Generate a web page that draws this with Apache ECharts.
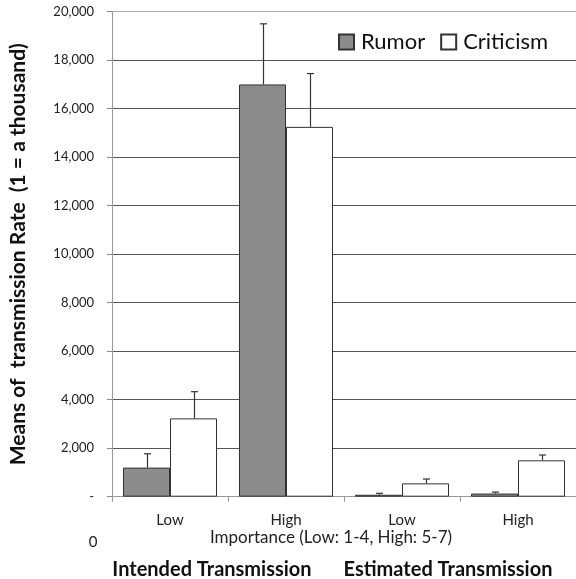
<!DOCTYPE html>
<html><head><meta charset="utf-8">
<script src="https://cdn.jsdelivr.net/npm/echarts@6/dist/echarts.min.js"></script>
<style>html,body{margin:0;padding:0;background:#fff}#c{width:576px;height:579px}</style>
</head><body><div id="c"></div>
<script>
const categories = ['Low', 'High', 'Low', 'High'];
const rumor = [1200, 17000, 80, 130];
const rumorErr = [570, 2500, 60, 60];
const criticism = [3230, 15250, 550, 1500];
const criticismErr = [1100, 2200, 180, 220];
const yTicks = { min: 0, max: 20000, interval: 2000 };

const FONT = 'Lato';
const BW = 47;
const chart = echarts.init(document.getElementById('c'));

function errSeries(name, vals, errs, side) {
  return {
    type: 'custom', name: name + ' err', silent: true, z: 5,
    data: vals.map((v, i) => [i, v, v + errs[i]]),
    renderItem: function (params, api) {
      const i = api.value(0);
      const p0 = api.coord([i, api.value(1)]);
      const p1 = api.coord([i, api.value(2)]);
      const x = Math.round(p0[0] + side * BW / 2) + 0.5;
      const st = { stroke: '#333', lineWidth: 1.2 };
      return { type: 'group', children: [
        { type: 'line', shape: { x1: x, y1: p0[1], x2: x, y2: p1[1] }, style: st },
        { type: 'line', shape: { x1: x - 3.5, y1: p1[1], x2: x + 3.5, y2: p1[1] }, style: st }
      ]};
    }
  };
}

chart.setOption({
  animation: false,
  textStyle: { fontFamily: FONT },
  grid: { left: 110.7, top: 11.7, width: 466.7, height: 485 },
  legend: {
    top: 26, left: 333, itemWidth: 15, itemHeight: 15, itemGap: 15,
    textStyle: { fontSize: 22, color: '#111', fontFamily: FONT, padding: [0, 0, 0, 2] },
    data: [
      { name: 'Rumor', icon: 'rect' },
      { name: 'Criticism', icon: 'rect' }
    ]
  },
  xAxis: {
    type: 'category', data: categories,
    axisLine: { lineStyle: { color: '#999' } },
    axisTick: { show: true, length: 5, lineStyle: { color: '#999' } },
    axisLabel: { fontSize: 15, color: '#222', margin: 16, fontFamily: FONT }
  },
  yAxis: {
    type: 'value', min: yTicks.min, max: yTicks.max, interval: yTicks.interval,
    axisLine: { show: true, lineStyle: { color: '#999' } },
    axisTick: { show: true, length: 5, lineStyle: { color: '#888' } },
    axisLabel: { fontSize: 13, color: '#222', margin: 18, fontFamily: FONT,
      formatter: v => v === 0 ? '-' : v.toLocaleString('en-US') },
    splitLine: { lineStyle: { color: ['#999','#555','#555','#555','#555','#555','#555','#555','#555','#555','#aaa'], width: 1 } },
    name: 'Means of  transmission Rate  (1 = a thousand)',
    nameLocation: 'middle', nameGap: 83, nameRotate: 90,
    nameTextStyle: { fontSize: 21, fontWeight: 'bold', color: '#111', fontFamily: FONT }
  },
  series: [
    { type: 'bar', name: 'Rumor', data: rumor, barWidth: BW, barGap: '0%',
      itemStyle: { color: '#8c8c8c', borderColor: '#333', borderWidth: 1 } },
    { type: 'bar', name: 'Criticism', data: criticism, barWidth: BW, barGap: '0%',
      itemStyle: { color: '#ffffff', borderColor: '#333', borderWidth: 1 } },
    errSeries('Rumor', rumor, rumorErr, -1),
    errSeries('Criticism', criticism, criticismErr, 1)
  ],
  graphic: [
    { type: 'text', style: { text: 'Importance (Low: 1-4, High: 5-7)', x: 331, y: 538, align: 'center', verticalAlign: 'middle', fontSize: 17, fill: '#222', fontFamily: FONT } },
    { type: 'text', style: { text: '0', x: 93, y: 542, align: 'center', verticalAlign: 'middle', fontSize: 15, fill: '#222', fontFamily: FONT } },
    { type: 'text', style: { text: 'Intended Transmission', x: 212, y: 570, align: 'center', verticalAlign: 'middle', fontSize: 20, fontWeight: 'bold', fill: '#111', fontFamily: FONT } },
    { type: 'text', style: { text: 'Estimated Transmission', x: 448, y: 570, align: 'center', verticalAlign: 'middle', fontSize: 20, fontWeight: 'bold', fill: '#111', fontFamily: FONT } }
  ]
});
</script></body></html>
